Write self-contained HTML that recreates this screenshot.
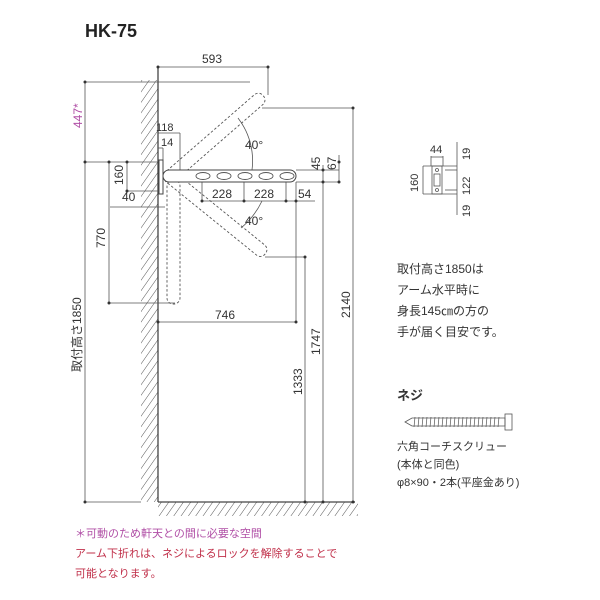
<!DOCTYPE html>
<html><head><meta charset="utf-8"><style>
body{margin:0;background:#fff}
svg{display:block}
text{font-family:"Liberation Sans","Noto Sans CJK JP",sans-serif;fill:#333}
</style></head><body>
<svg width="600" height="600" viewBox="0 0 600 600">
<defs>
<pattern id="h" width="6" height="6" patternUnits="userSpaceOnUse" patternTransform="rotate(35)">
<line x1="0" y1="0" x2="0" y2="6" stroke="#555" stroke-width="1"/>
</pattern>
</defs>
<text x="85" y="37" font-size="18" font-weight="bold" style="fill:#222">HK-75</text>
<rect x="141" y="80" width="17" height="422" fill="url(#h)"/>
<rect x="158" y="502" width="200" height="14" fill="url(#h)"/>
<line x1="158" y1="67" x2="158" y2="502" stroke="#444" stroke-width="1.3"/>
<line x1="158" y1="502" x2="355" y2="502" stroke="#444" stroke-width="1.3"/>
<g stroke="#555" stroke-width="0.8" fill="none">
<line x1="158" y1="67" x2="268" y2="67"/><line x1="268" y1="67" x2="268" y2="95"/>
<line x1="85" y1="82" x2="250" y2="82"/><line x1="85" y1="82" x2="85" y2="502"/>
<line x1="85" y1="162" x2="158" y2="162"/><line x1="85" y1="502" x2="141" y2="502"/>
<line x1="262" y1="108" x2="353" y2="108"/><line x1="353" y1="108" x2="353" y2="502"/>
<line x1="127" y1="162" x2="127" y2="191"/><line x1="127" y1="191" x2="160" y2="191"/>
<line x1="110" y1="207" x2="165" y2="207"/>
<line x1="109" y1="162" x2="109" y2="303"/><line x1="109" y1="303" x2="175" y2="303"/>
<line x1="158" y1="133" x2="180" y2="133"/><line x1="180" y1="133" x2="180" y2="175"/>
<line x1="158" y1="148" x2="163" y2="148"/><line x1="163" y1="148" x2="163" y2="170"/>
<line x1="296" y1="170" x2="339" y2="170"/><line x1="296" y1="182" x2="339" y2="182"/>
<line x1="323" y1="165" x2="323" y2="502"/><line x1="339" y1="155" x2="339" y2="182"/>
<line x1="202" y1="201" x2="315" y2="201"/>
<line x1="202" y1="182" x2="202" y2="201"/><line x1="244" y1="182" x2="244" y2="201"/><line x1="286" y1="182" x2="286" y2="201"/>
<line x1="296" y1="182" x2="296" y2="322"/>
<line x1="158" y1="322" x2="296" y2="322"/>
<line x1="265" y1="257" x2="305" y2="257"/><line x1="305" y1="257" x2="305" y2="502"/>
<path d="M238,118 A70,70 0 0 1 252,170"/>
<path d="M262,201 A80,80 0 0 1 241,228"/>
</g>
<g fill="#333">
<circle cx="158" cy="67" r="1.5"/><circle cx="268" cy="67" r="1.5"/><circle cx="85" cy="82" r="1.5"/><circle cx="85" cy="162" r="1.5"/><circle cx="85" cy="502" r="1.5"/><circle cx="353" cy="108" r="1.5"/><circle cx="353" cy="502" r="1.5"/><circle cx="127" cy="162" r="1.5"/><circle cx="127" cy="191" r="1.5"/><circle cx="109" cy="162" r="1.5"/><circle cx="109" cy="303" r="1.5"/><circle cx="202" cy="201" r="1.5"/><circle cx="244" cy="201" r="1.5"/><circle cx="286" cy="201" r="1.5"/><circle cx="296" cy="201" r="1.5"/><circle cx="296" cy="322" r="1.5"/><circle cx="305" cy="257" r="1.5"/><circle cx="305" cy="502" r="1.5"/><circle cx="323" cy="170" r="1.5"/><circle cx="323" cy="182" r="1.5"/><circle cx="323" cy="502" r="1.5"/><circle cx="339" cy="162" r="1.5"/><circle cx="339" cy="182" r="1.5"/><circle cx="158" cy="322" r="1.5"/>
</g>
<g stroke="#555" stroke-width="0.9" fill="none" stroke-dasharray="2.5,2">
<rect x="165" y="-6" width="128" height="13" rx="6" transform="translate(170,176) rotate(-41) translate(-170,0)"/>
<rect x="165" y="-6" width="128" height="13" rx="6" transform="translate(170,176) rotate(39) translate(-170,0)"/>
<rect x="167" y="180" width="13" height="124" rx="6"/>
</g>
<g stroke="#444" stroke-width="1" fill="#fff">
<rect x="159" y="160" width="4" height="34"/>
<rect x="163" y="170" width="133" height="12" rx="6"/>
</g>
<g stroke="#555" stroke-width="0.9" fill="none">
<ellipse cx="203" cy="176" rx="7" ry="3.5"/><ellipse cx="224" cy="176" rx="7" ry="3.5"/><ellipse cx="245" cy="176" rx="7" ry="3.5"/><ellipse cx="266" cy="176" rx="7" ry="3.5"/><ellipse cx="287" cy="176" rx="7" ry="3.5"/>
</g>
<g font-size="12">
<text x="202" y="63">593</text>
<text x="245" y="149">40°</text>
<text x="245" y="225">40°</text>
<text x="156" y="131" font-size="11">118</text>
<text x="161" y="146" font-size="11">14</text>
<text x="122" y="201">40</text>
<text x="212" y="198">228</text>
<text x="254" y="198">228</text>
<text x="298" y="198">54</text>
<text x="215" y="319">746</text>
<text transform="translate(123,185) rotate(-90)">160</text>
<text transform="translate(105,248) rotate(-90)">770</text>
<text transform="translate(320,170) rotate(-90)">45</text>
<text transform="translate(336,170) rotate(-90)">67</text>
<text transform="translate(350,318) rotate(-90)">2140</text>
<text transform="translate(320,355) rotate(-90)">1747</text>
<text transform="translate(302,395) rotate(-90)">1333</text>
<text transform="translate(82,128) rotate(-90)" style="fill:#b04fa6">447*</text>
<text transform="translate(81,372) rotate(-90)">取付高さ1850</text>
</g>
<g stroke="#555" stroke-width="0.8" fill="none">
<rect x="432" y="166" width="10" height="28"/>
<rect x="434" y="174" width="6" height="12"/>
<circle cx="437" cy="170" r="1.5"/><circle cx="437" cy="190" r="1.5"/>
<line x1="431" y1="156" x2="431" y2="166"/><line x1="443" y1="156" x2="443" y2="166"/><line x1="431" y1="157" x2="443" y2="157"/>
<line x1="423" y1="166" x2="457" y2="166"/><line x1="423" y1="194" x2="457" y2="194"/>
<line x1="423" y1="166" x2="423" y2="194"/>
<line x1="445" y1="170" x2="457" y2="170"/><line x1="445" y1="190" x2="457" y2="190"/>
<line x1="457" y1="142" x2="457" y2="215"/>
</g>
<g font-size="11">
<text x="430" y="153">44</text>
<text transform="translate(418,192) rotate(-90)">160</text>
<text transform="translate(470,160) rotate(-90)">19</text>
<text transform="translate(470,195) rotate(-90)">122</text>
<text transform="translate(470,217) rotate(-90)">19</text>
</g>
<g font-size="12">
<text x="397" y="273">取付高さ1850は</text>
<text x="397" y="294">アーム水平時に</text>
<text x="397" y="315">身長145㎝の方の</text>
<text x="397" y="336">手が届く目安です。</text>
<text x="397" y="400" font-weight="bold" font-size="13">ネジ</text>
</g>
<g stroke="#555" stroke-width="0.8" fill="none">
<path d="M405,422 L412,418 L505,418 L505,426 L412,426 Z"/>
<rect x="505" y="414" width="7" height="16"/>
</g>
<g stroke="#555" stroke-width="0.7">
<line x1="415" y1="417" x2="414" y2="427"/><line x1="419" y1="417" x2="418" y2="427"/><line x1="423" y1="417" x2="422" y2="427"/><line x1="427" y1="417" x2="426" y2="427"/><line x1="431" y1="417" x2="430" y2="427"/><line x1="435" y1="417" x2="434" y2="427"/><line x1="439" y1="417" x2="438" y2="427"/><line x1="443" y1="417" x2="442" y2="427"/><line x1="447" y1="417" x2="446" y2="427"/><line x1="451" y1="417" x2="450" y2="427"/><line x1="455" y1="417" x2="454" y2="427"/><line x1="459" y1="417" x2="458" y2="427"/><line x1="463" y1="417" x2="462" y2="427"/><line x1="467" y1="417" x2="466" y2="427"/><line x1="471" y1="417" x2="470" y2="427"/><line x1="475" y1="417" x2="474" y2="427"/><line x1="479" y1="417" x2="478" y2="427"/><line x1="483" y1="417" x2="482" y2="427"/><line x1="487" y1="417" x2="486" y2="427"/><line x1="491" y1="417" x2="490" y2="427"/><line x1="495" y1="417" x2="494" y2="427"/><line x1="499" y1="417" x2="498" y2="427"/>
</g>
<g font-size="11">
<text x="397" y="450">六角コーチスクリュー</text>
<text x="397" y="468">(本体と同色)</text>
<text x="397" y="486">φ8×90・2本(平座金あり)</text>
</g>
<g font-size="11">
<text x="75" y="537" style="fill:#b04fa6">＊可動のため軒天との間に必要な空間</text>
<text x="75" y="557" style="fill:#c0304a">アーム下折れは、ネジによるロックを解除することで</text>
<text x="75" y="577" style="fill:#c0304a">可能となります。</text>
</g>
</svg>
</body></html>
